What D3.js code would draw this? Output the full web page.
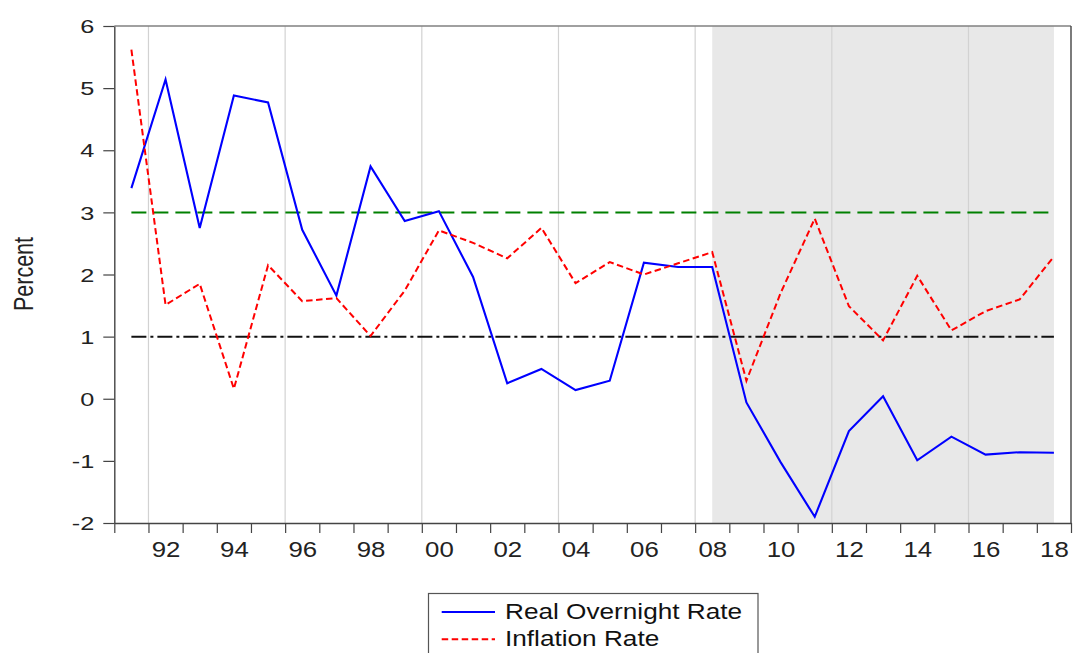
<!DOCTYPE html>
<html>
<head>
<meta charset="utf-8">
<script src="https://cdn.jsdelivr.net/npm/d3@7"></script>
<style>
  html, body { margin: 0; padding: 0; background: #fff; }
  svg { display: block; font-family: "Liberation Sans", Arial, sans-serif; }
</style>
</head>
<body>
<svg id="chart" width="1073" height="653"></svg>
<script>
// ---- data ----
const years = d3.range(1991, 2019);
const realOvernightRate = [3.39, 5.14, 2.75, 4.88, 4.77, 2.72, 1.66, 3.74, 2.86, 3.02,
  1.96, 0.25, 0.48, 0.14, 0.29, 2.19, 2.12, 2.12, -0.06, -1.02,
  -1.90, -0.52, 0.04, -0.99, -0.61, -0.90, -0.86, -0.87];
const inflationRate = [5.62, 1.51, 1.85, 0.16, 2.15, 1.57, 1.62, 1.01, 1.74, 2.71,
  2.51, 2.26, 2.75, 1.86, 2.20, 2.00, 2.18, 2.36, 0.29, 1.70,
  2.90, 1.49, 0.94, 1.98, 1.10, 1.41, 1.60, 2.29];
const upperTarget = 3;
const lowerTarget = 1;
const shadeStart = 2008, shadeEnd = 2018;
const yTicks = [-2, -1, 0, 1, 2, 3, 4, 5, 6];
const labelYears = d3.range(1992, 2019, 2);
const gridYears = [1992, 1996, 2000, 2004, 2008, 2012, 2016];
const seriesNames = ["Real Overnight Rate", "Inflation Rate"];

// ---- layout ----
const L = 114.3, R = 1071, T = 26, B = 523;
const svg = d3.select("#chart");
const x = d3.scaleLinear().domain([1990.5, 2018.5]).range([L, R]);
const y = d3.scaleLinear().domain([-2, 6]).range([B, T]);

// shaded region
svg.append("rect")
  .attr("x", x(shadeStart)).attr("y", T)
  .attr("width", x(shadeEnd) - x(shadeStart)).attr("height", B - T)
  .attr("fill", "#e8e8e8");

// vertical grid lines
svg.append("g").selectAll("line").data(gridYears).join("line")
  .attr("x1", d => x(d - 0.5)).attr("x2", d => x(d - 0.5))
  .attr("y1", T).attr("y2", B)
  .attr("stroke", "#d2d2d2").attr("stroke-width", 1.2);

// reference lines
svg.append("line")
  .attr("x1", x(years[0])).attr("x2", x(years[years.length - 1]))
  .attr("y1", y(upperTarget)).attr("y2", y(upperTarget))
  .attr("stroke", "#008000").attr("stroke-width", 2)
  .attr("stroke-dasharray", "15,7");
svg.append("line")
  .attr("x1", x(years[0])).attr("x2", x(years[years.length - 1]))
  .attr("y1", y(lowerTarget)).attr("y2", y(lowerTarget))
  .attr("stroke", "#111").attr("stroke-width", 2)
  .attr("stroke-dasharray", "15,4,3,4");

// series
const line = d3.line().x((d, i) => x(years[i])).y(d => y(d));
svg.append("path").datum(realOvernightRate)
  .attr("d", line).attr("fill", "none")
  .attr("stroke", "#0000ff").attr("stroke-width", 2.1);
svg.append("path").datum(inflationRate)
  .attr("d", line).attr("fill", "none")
  .attr("stroke", "#ff0000").attr("stroke-width", 2)
  .attr("stroke-dasharray", "6.5,3.5");

// frame
svg.append("line").attr("x1", L).attr("x2", R).attr("y1", T).attr("y2", T)
  .attr("stroke", "#808080").attr("stroke-width", 1.6);
svg.append("line").attr("x1", R).attr("x2", R).attr("y1", T).attr("y2", B)
  .attr("stroke", "#444").attr("stroke-width", 1.4);

// y axis
const gy = svg.append("g").attr("transform", `translate(${L},0)`)
  .call(d3.axisLeft(y).tickValues(yTicks).tickSize(11).tickSizeOuter(0).tickFormat(d => String(d)));
gy.select(".domain").attr("stroke", "#444").attr("stroke-width", 1.4);
gy.selectAll(".tick line").attr("stroke", "#444").attr("stroke-width", 1.2);
gy.selectAll(".tick text")
  .attr("x", 0).attr("dy", "0.36em")
  .attr("transform", "translate(-20,0) scale(1.36,1)")
  .attr("font-size", 18.6).attr("fill", "#222")
  .attr("font-family", "Liberation Sans, Arial, sans-serif");

// x axis ticks at year boundaries
const boundaries = d3.range(1991, 2020).map(v => v - 0.5);
const gx = svg.append("g").attr("transform", `translate(0,${B})`)
  .call(d3.axisBottom(x).tickValues(boundaries).tickSize(10).tickSizeOuter(0).tickFormat(""));
gx.select(".domain").attr("stroke", "#444").attr("stroke-width", 1.4);
gx.selectAll(".tick line").attr("stroke", "#444").attr("stroke-width", 1.2);

// x axis labels at observation centres
const gxl = svg.append("g").attr("transform", `translate(0,${B})`)
  .call(d3.axisBottom(x).tickValues(labelYears).tickSize(0)
    .tickFormat(d => String(d % 100).padStart(2, "0")));
gxl.select(".domain").remove();
gxl.selectAll(".tick text")
  .attr("y", 0).attr("dy", 0)
  .attr("transform", "translate(0,34.3) scale(1.2,1)")
  .attr("font-size", 21.5).attr("fill", "#222")
  .attr("font-family", "Liberation Sans, Arial, sans-serif");

// y axis title
svg.append("text")
  .attr("transform", "translate(33.3,274) rotate(-90) scale(1,1.28)")
  .attr("text-anchor", "middle")
  .attr("font-size", 21.5).attr("fill", "#222")
  .text("Percent");

// legend
const lg = svg.append("g");
lg.append("rect").attr("x", 428.5).attr("y", 593.5).attr("width", 329.5).attr("height", 80)
  .attr("fill", "#fff").attr("stroke", "#555").attr("stroke-width", 1.2);
const legendItems = [
  { name: seriesNames[0], color: "#0000ff", dash: null, ly: 612, ty: 619.3 },
  { name: seriesNames[1], color: "#ff0000", dash: "6.5,3.5", ly: 639.3, ty: 646 }
];
legendItems.forEach(it => {
  lg.append("line").attr("x1", 441.7).attr("x2", 495).attr("y1", it.ly).attr("y2", it.ly)
    .attr("stroke", it.color).attr("stroke-width", 2)
    .attr("stroke-dasharray", it.dash);
  lg.append("text")
    .attr("transform", `translate(505,${it.ty}) scale(1.19,1)`)
    .attr("font-size", 22).attr("fill", "#111")
    .text(it.name);
});
</script>
</body>
</html>
